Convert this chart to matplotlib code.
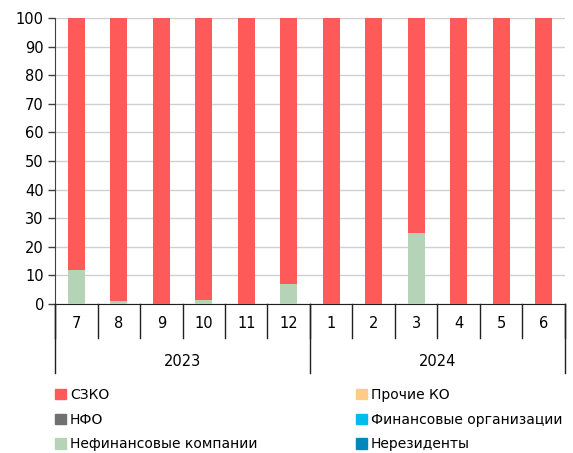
import numpy as np
import matplotlib.pyplot as plt
from matplotlib.patches import Patch
from matplotlib import transforms

months = ['7', '8', '9', '10', '11', '12', '1', '2', '3', '4', '5', '6']
years = ['2023', '2024']
months_per_year = [6, 6]

nonfin = np.array([12, 1, 0, 1.5, 0, 7, 0, 0, 25, 0, 0, 0])
szko = 100 - nonfin
other_ko = np.zeros(12)
nfo = np.zeros(12)
fin_org = np.zeros(12)
nonres = np.zeros(12)

colors = {
    'СЗКО': '#ff5a5a',
    'Прочие КО': '#ffcc88',
    'НФО': '#707070',
    'Финансовые организации': '#00bbee',
    'Нефинансовые компании': '#b5d3b6',
    'Нерезиденты': '#0088bb',
}

plt.rcParams['font.family'] = ['DejaVu Sans']
fig = plt.figure(figsize=(5.73, 4.53), dpi=100)
ax = fig.add_axes([0.096, 0.329, 0.890, 0.631])

x = np.arange(len(months))
w = 0.4
bottom = np.zeros(12)
for name, vals in [('Нефинансовые компании', nonfin), ('СЗКО', szko),
                   ('Прочие КО', other_ko), ('НФО', nfo),
                   ('Финансовые организации', fin_org), ('Нерезиденты', nonres)]:
    ax.bar(x, vals, w, bottom=bottom, color=colors[name], zorder=3)
    bottom += vals

ax.set_xlim(-0.5, len(months) - 0.5)
ax.set_ylim(0, 100)
ax.set_yticks(range(0, 101, 10))
ax.yaxis.grid(True, color='#d0d0d0', linewidth=1, zorder=0)
ax.tick_params(axis='y', labelsize=10.5, length=5, width=1, color='#404040', pad=3)
for s in ['top', 'right']:
    ax.spines[s].set_visible(False)
ax.spines['left'].set_color('#404040')
ax.spines['bottom'].set_color('#202020')

# month labels under the bars, separators between them
ax.set_xticks(x)
ax.set_xticklabels(months)
ax.tick_params(axis='x', length=0, labelsize=10.5, pad=9)
trans = transforms.blended_transform_factory(ax.transData, ax.transAxes)
for b in np.arange(-0.5, len(months), 1.0):
    ax.plot([b, b], [0, -0.12], transform=trans, color='#202020', lw=1, clip_on=False)

start = -0.5
for yr, n in zip(years, months_per_year):
    ax.plot([start, start], [0, -0.24], transform=trans, color='#202020', lw=1, clip_on=False)
    ax.text(start + n / 2, -0.20, yr, transform=trans, ha='center', va='center', fontsize=10.5)
    start += n
ax.plot([start, start], [0, -0.24], transform=trans, color='#202020', lw=1, clip_on=False)

# legend filled column by column
order = ['СЗКО', 'НФО', 'Нефинансовые компании', 'Прочие КО', 'Финансовые организации', 'Нерезиденты']
handles = [Patch(color=colors[n], label=n) for n in order]
fig.legend(handles=handles, loc='lower left', bbox_to_anchor=(0.075, -0.024), ncol=2,
           frameon=False, fontsize=10, handlelength=0.75, handleheight=0.75,
           handletextpad=0.3, columnspacing=7.1, labelspacing=0.78)

fig.savefig('out.png', dpi=100)
